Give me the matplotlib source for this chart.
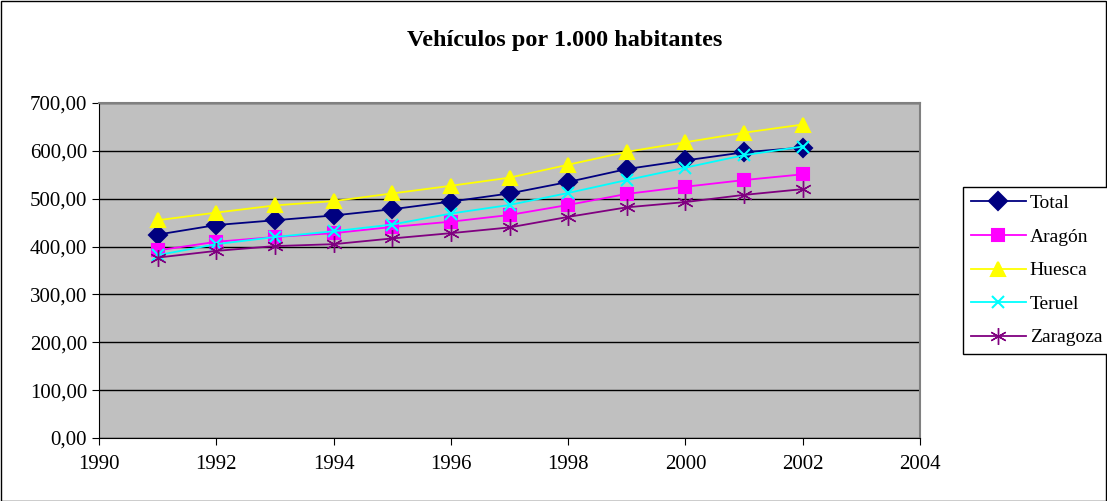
import matplotlib
matplotlib.use("Agg")
import matplotlib.pyplot as plt
from matplotlib.patches import Rectangle
from matplotlib.ticker import FuncFormatter, MultipleLocator

years = [1991, 1992, 1993, 1994, 1995, 1996, 1997, 1998, 1999, 2000, 2001, 2002]
total = [425, 445, 455, 465, 478, 494, 511, 535, 562, 580, 597, 607]
aragon = [392, 410, 420, 428, 441, 452, 466, 487, 510, 525, 539, 551]
huesca = [455, 471, 486, 495, 511, 527, 544, 571, 598, 618, 638, 655]
teruel = [382, 405, 420, 432, 446, 469, 487, 512, 539, 565, 591, 609]
zaragoza = [377, 391, 401, 405, 417, 428, 440, 462, 482, 493, 508, 520]

series = [
    ("Total", total, "#000080", "D", 9, 1.5),
    ("Aragón", aragon, "#FF00FF", "s", 9, 1.5),
    ("Huesca", huesca, "#FFFF00", "^", 10, 1.5),
    ("Teruel", teruel, "#00FFFF", "x", 9, 1.5),
    ("Zaragoza", zaragoza, "#800080", (6, 2, 0), 12, 1.0),
]

plt.rcParams["font.family"] = ["Liberation Serif", "DejaVu Serif"]

W, H = 1107, 501
fig = plt.figure(figsize=(W / 100, H / 100), dpi=100)
fig.patches.append(Rectangle((0.5 / W, 0.5 / H), 1 - 1.5 / W, 1 - 1.5 / H, transform=fig.transFigure,
                             fill=False, edgecolor="black", linewidth=1))

ax = fig.add_axes([99 / W, (H - 438) / H, (920 - 99) / W, (438 - 103) / H])
ax.set_facecolor("#C0C0C0")

for name, values, color, marker, size, edge in series:
    ax.plot(years, values, color=color, linewidth=1.3, marker=marker, markersize=size,
            markerfacecolor=color, markeredgecolor=color, markeredgewidth=edge, label=name)

ax.set_xlim(1990, 2004)
ax.set_ylim(0, 700)
ax.xaxis.set_major_locator(MultipleLocator(2))
ax.yaxis.set_major_locator(MultipleLocator(100))
ax.yaxis.set_major_formatter(FuncFormatter(lambda v, _: f"{v:.2f}".replace(".", ",")))
ax.grid(axis="y", color="black", linewidth=1)
ax.set_axisbelow(True)
ax.tick_params(labelsize=15, length=5, direction="out", color="black")
ax.tick_params(axis="x", pad=7)
for side in ["top", "right"]:
    ax.spines[side].set_color("#808080")
    ax.spines[side].set_linewidth(1.5)
for side in ["left", "bottom"]:
    ax.spines[side].set_color("black")

fig.text(0.51, 1 - 41 / H, "Vehículos por 1.000 habitantes", ha="center", va="center",
         fontsize=17.5, fontweight="bold")

fig.legend(loc="upper left", bbox_to_anchor=(963 / W, 1 - 187 / H), fontsize=14,
           frameon=True, fancybox=False, edgecolor="black", framealpha=1, handlelength=2.85,
           handletextpad=0.2, borderpad=0.39, labelspacing=0.82, borderaxespad=0)

fig.savefig("out.png", dpi=100)
